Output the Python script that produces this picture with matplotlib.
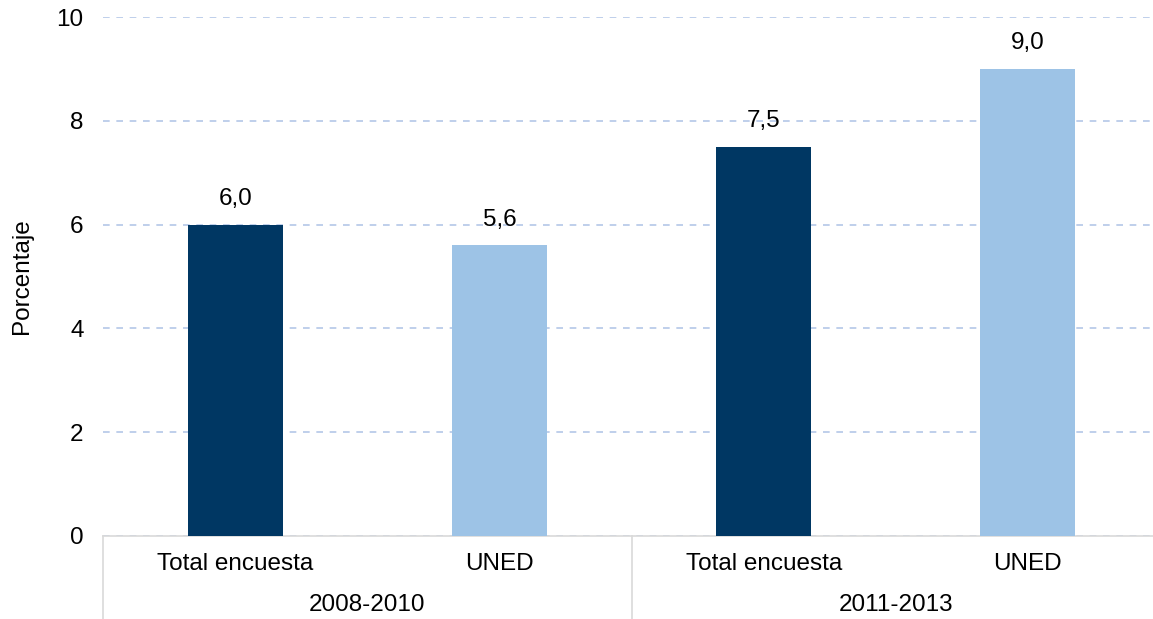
import matplotlib
matplotlib.use("Agg")
import matplotlib.pyplot as plt
import matplotlib.transforms as mtransforms

plt.rcParams['font.family'] = ['Liberation Sans', 'DejaVu Sans']

periods = ['2008-2010', '2011-2013']
categories = ['Total encuesta', 'UNED']
total_encuesta = [6.0, 7.5]
uned = [5.6, 9.0]
yticks = [0, 2, 4, 6, 8, 10]

dark = '#003763'
light = '#9DC3E6'
fs = 17.5

fig = plt.figure(figsize=(11.53, 6.19), dpi=100)
ax = fig.add_axes([103/1153, 1 - 536/619, 1057/1153, (536 - 17)/619])

positions = []
values = []
colors = []
labels = []
for i, p in enumerate(periods):
    positions += [2*i, 2*i + 1]
    values += [total_encuesta[i], uned[i]]
    colors += [dark, light]
    labels += categories

ax.bar(positions, values, width=0.36, color=colors, zorder=3)
for x, v in zip(positions, values):
    ax.text(x, v + 0.28, f"{v:.1f}".replace('.', ','), ha='center', va='bottom', fontsize=fs, color='#000000')

ax.set_xlim(-0.5, len(positions) - 0.5)
ax.set_ylim(0, 10)
ax.set_yticks(yticks)
ax.set_yticklabels([str(t) for t in yticks], fontsize=fs)
ax.yaxis.grid(True, linestyle=(0, (4, 4)), color='#B4C7E7', linewidth=1.2, zorder=0)
ax.set_axisbelow(True)
ax.tick_params(axis='y', length=0, pad=14)
ax.tick_params(axis='x', length=0, pad=12)
ax.set_xticks(positions)
ax.set_xticklabels(labels, fontsize=fs)

for s in ['top', 'right', 'left']:
    ax.spines[s].set_visible(False)
ax.spines['bottom'].set_color('#D9D9D9')
ax.spines['bottom'].set_linewidth(1.2)

trans = mtransforms.blended_transform_factory(ax.transData, ax.transAxes)
for i, p in enumerate(periods):
    ax.text(2*i + 0.5, -0.133, p, transform=trans, ha='center', va='center', fontsize=fs)
for b in [-0.5, 1.5, 3.5]:
    ax.plot([b, b], [0, -0.165], transform=trans, color='#D9D9D9', linewidth=1.2, clip_on=False)

ax.set_ylabel('Porcentaje', fontsize=fs)
ax.yaxis.set_label_coords(-0.066, 0.5)

fig.savefig('out.png', dpi=100)
